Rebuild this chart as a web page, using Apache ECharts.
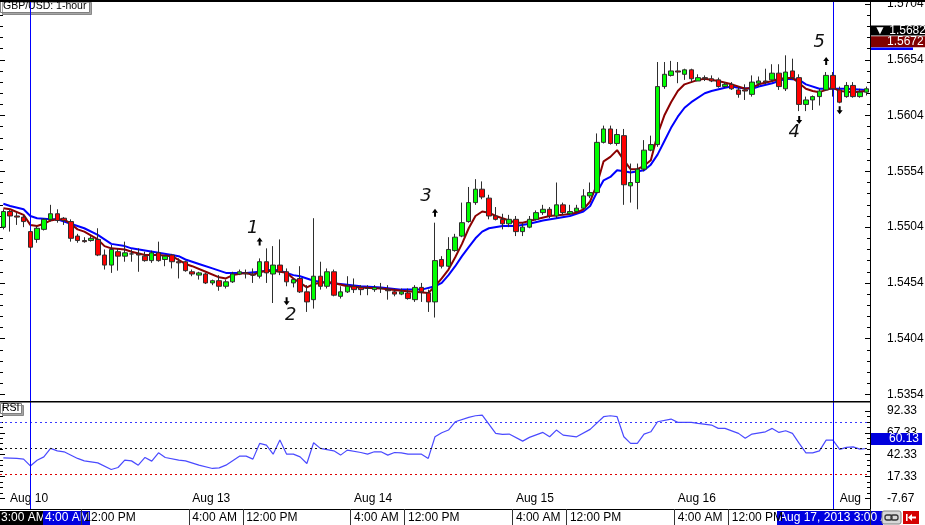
<!DOCTYPE html>
<html><head><meta charset="utf-8">
<script src="https://cdn.jsdelivr.net/npm/echarts@6/dist/echarts.min.js"></script>
<style>html,body{margin:0;padding:0;background:#fff}#c{width:925px;height:525px}</style>
</head><body><div id="c"></div><script>
// ---------- DATA ----------
const opens = [1.5504,1.5518,1.5514,1.5513,1.5500,1.5493,1.5502,1.5511,1.5516,1.5512,
1.5509,1.5496,1.5492,1.5492,1.5493,1.5479,1.5470,1.5482,1.5478,1.5480,
1.5480,1.5478,1.5474,1.5481,1.5475,1.5479,1.5473,1.5473,1.5464,1.5461,
1.5462,1.5454,1.5456,1.5451,1.5455,1.5462,1.5463,1.5462,1.5460,1.5473,
1.5462,1.5470,1.5464,1.5454,1.5458,1.5446,1.5439,1.5460,1.5451,1.5464,
1.5442,1.5446,1.5451,1.5450,1.5449,1.5448,1.5449,1.5448,1.5446,1.5444,
1.5445,1.5439,1.5450,1.5445,1.5437,1.5475,1.5469,1.5483,1.5496,1.5509,
1.5526,1.5538,1.5530,1.5514,1.5511,1.5507,1.5511,1.5500,1.5504,1.5511,
1.5517,1.5520,1.5514,1.5524,1.5516,1.5518,1.5521,1.5532,1.5535,1.5580,
1.5592,1.5579,1.5586,1.5541,1.5544,1.5556,1.5573,1.5578,1.5630,1.5640,
1.5644,1.5641,1.5645,1.5635,1.5638,1.5637,1.5636,1.5630,1.5632,1.5627,
1.5627,1.5623,1.5633,1.5635,1.5636,1.5642,1.5628,1.5644,1.5638,1.5614,
1.5618,1.5621,1.5627,1.5640,1.5627,1.5621,1.5631,1.5621,1.5625];
const closes = [1.5518,1.5514,1.5513,1.5509,1.5486,1.5503,1.5511,1.5516,1.5510,1.5510,
1.5494,1.5492,1.5491,1.5494,1.5479,1.5470,1.5484,1.5478,1.5481,1.5480,
1.5479,1.5474,1.5481,1.5474,1.5478,1.5473,1.5472,1.5465,1.5462,1.5463,
1.5454,1.5456,1.5451,1.5455,1.5462,1.5464,1.5462,1.5461,1.5473,1.5463,
1.5470,1.5464,1.5455,1.5457,1.5446,1.5437,1.5460,1.5451,1.5464,1.5443,
1.5446,1.5451,1.5448,1.5448,1.5449,1.5450,1.5449,1.5447,1.5444,1.5446,
1.5440,1.5450,1.5446,1.5437,1.5474,1.5469,1.5484,1.5495,1.5508,1.5526,
1.5538,1.5531,1.5514,1.5511,1.5507,1.5511,1.5500,1.5504,1.5511,1.5517,
1.5520,1.5514,1.5524,1.5517,1.5518,1.5521,1.5532,1.5535,1.5580,1.5592,
1.5579,1.5587,1.5542,1.5544,1.5556,1.5573,1.5578,1.5630,1.5641,1.5644,
1.5643,1.5645,1.5637,1.5638,1.5637,1.5635,1.5630,1.5632,1.5628,1.5623,
1.5626,1.5634,1.5635,1.5634,1.5642,1.5630,1.5643,1.5638,1.5614,1.5618,
1.5621,1.5626,1.5640,1.5628,1.5616,1.5631,1.5621,1.5625,1.5628];
const lows = [1.5502,1.5500,1.5506,1.5504,1.5484,1.5490,1.5501,1.5509,1.5508,1.5506,
1.5491,1.5490,1.5490,1.5491,1.5478,1.5466,1.5463,1.5465,1.5473,1.5473,
1.5464,1.5473,1.5472,1.5473,1.5469,1.5467,1.5458,1.5464,1.5460,1.5457,
1.5453,1.5452,1.5447,1.5449,1.5454,1.5461,1.5458,1.5454,1.5458,1.5454,
1.5436,1.5461,1.5451,1.5450,1.5445,1.5428,1.5431,1.5448,1.5449,1.5442,
1.5440,1.5445,1.5445,1.5443,1.5443,1.5446,1.5445,1.5439,1.5442,1.5443,
1.5439,1.5437,1.5437,1.5428,1.5423,1.5467,1.5468,1.5482,1.5495,1.5508,
1.5524,1.5529,1.5511,1.5510,1.5502,1.5504,1.5496,1.5496,1.5503,1.5510,
1.5515,1.5512,1.5512,1.5515,1.5515,1.5517,1.5520,1.5530,1.5534,1.5579,
1.5578,1.5577,1.5524,1.5526,1.5520,1.5554,1.5572,1.5576,1.5628,1.5639,
1.5633,1.5636,1.5634,1.5635,1.5635,1.5634,1.5629,1.5629,1.5627,1.5620,
1.5618,1.5621,1.5630,1.5632,1.5634,1.5627,1.5626,1.5636,1.5608,1.5608,
1.5609,1.5613,1.5626,1.5621,1.5615,1.5620,1.5620,1.5620,1.5622];
const highs = [1.5520,1.5520,1.5517,1.5515,1.5501,1.5505,1.5512,1.5524,1.5520,1.5513,
1.5511,1.5498,1.5495,1.5496,1.5503,1.5484,1.5488,1.5485,1.5491,1.5484,
1.5485,1.5482,1.5483,1.5491,1.5479,1.5480,1.5476,1.5474,1.5466,1.5464,
1.5463,1.5457,1.5461,1.5457,1.5464,1.5466,1.5466,1.5467,1.5476,1.5485,
1.5487,1.5493,1.5467,1.5458,1.5469,1.5452,1.5512,1.5473,1.5467,1.5466,
1.5451,1.5460,1.5458,1.5452,1.5452,1.5452,1.5454,1.5452,1.5449,1.5449,
1.5449,1.5452,1.5454,1.5448,1.5508,1.5478,1.5495,1.5498,1.5526,1.5540,
1.5547,1.5545,1.5533,1.5522,1.5516,1.5515,1.5514,1.5508,1.5514,1.5519,
1.5524,1.5522,1.5544,1.5526,1.5524,1.5524,1.5538,1.5544,1.5588,1.5595,
1.5595,1.5592,1.5592,1.5561,1.5561,1.5582,1.5586,1.5652,1.5652,1.5653,
1.5652,1.5646,1.5646,1.5641,1.5640,1.5640,1.5638,1.5634,1.5634,1.5630,
1.5632,1.5640,1.5639,1.5646,1.5650,1.5650,1.5658,1.5655,1.5641,1.5621,
1.5622,1.5628,1.5643,1.5643,1.5630,1.5634,1.5634,1.5628,1.5630];

// moving averages: [candle index, price]
const emaRed = [[0,1.5521],[1,1.5520],[3,1.5515],[4,1.5506],[5,1.5505],[6,1.5507],[7,1.5510],[8,1.5511],[9,1.5511],[10,1.5507],[11,1.5502],[12,1.5500],[14,1.5493],[15,1.5487],[16,1.5485],[18,1.5484],[19,1.5482],[21,1.5479],[23,1.5479],[25,1.5478],[27,1.5471],[28,1.5469],[30,1.5464],[32,1.5459],[33,1.5458],[34,1.5461],[36,1.5463],[37,1.5461],[38,1.5464],[40,1.5465],[42,1.5463],[43,1.5458],[44,1.5454],[45,1.5450],[46,1.5453],[48,1.5455],[49,1.5454],[51,1.5451],[53,1.5450],[56,1.5449],[59,1.5447],[61,1.5446],[63,1.5445],[64,1.5451],[65,1.5458],[66,1.5466],[67,1.5477],[68,1.5489],[69,1.5503],[70,1.5514],[71,1.5518],[72,1.5517],[73,1.5514],[74,1.5512],[75,1.5510],[76,1.5508],[77,1.5508],[79,1.5511],[81,1.5514],[83,1.5515],[85,1.5517],[86,1.5520],[87,1.5527],[88,1.5542],[89,1.5563],[90,1.5567],[91,1.5573],[92,1.5564],[93,1.5556],[94,1.5556],[95,1.5559],[96,1.5564],[97,1.5587],[98,1.5604],[99,1.5616],[100,1.5626],[101,1.5632],[103,1.5636],[104,1.5637],[106,1.5635],[108,1.5632],[110,1.5628],[111,1.5629],[112,1.5632],[114,1.5635],[115,1.5637],[117,1.5638],[118,1.5633],[119,1.5628],[120,1.5626],[121,1.5625],[122,1.5627],[123,1.5629],[124,1.5626],[126,1.5625],[128,1.5626]];
const emaBlue = [[0,1.5525],[1,1.5523],[3,1.5520],[4,1.5514],[5,1.5512],[7,1.5511],[8,1.5511],[10,1.5507],[12,1.5503],[14,1.5497],[15,1.5493],[16,1.5489],[18,1.5487],[19,1.5485],[21,1.5483],[23,1.5481],[25,1.5479],[26,1.5478],[27,1.5475],[29,1.5471],[31,1.5467],[33,1.5463],[34,1.5463],[36,1.5463],[38,1.5464],[40,1.5466],[41,1.5465],[43,1.5461],[44,1.5460],[46,1.5456],[48,1.5454],[50,1.5453],[53,1.5451],[56,1.5450],[59,1.5448],[62,1.5448],[64,1.5451],[65,1.5454],[66,1.5461],[67,1.5469],[68,1.5478],[69,1.5486],[70,1.5494],[71,1.5500],[72,1.5503],[74,1.5505],[76,1.5505],[78,1.5507],[80,1.5510],[82,1.5512],[84,1.5514],[86,1.5518],[87,1.5523],[88,1.5535],[89,1.5546],[90,1.5549],[91,1.5555],[92,1.5554],[93,1.5553],[95,1.5555],[96,1.5560],[97,1.5569],[98,1.5581],[99,1.5593],[100,1.5603],[101,1.5611],[102,1.5616],[104,1.5624],[105,1.5626],[107,1.5629],[108,1.5630],[109,1.5629],[111,1.5628],[112,1.5630],[114,1.5633],[116,1.5637],[118,1.5636],[119,1.5632],[121,1.5628],[123,1.5628],[125,1.5628],[128,1.5627]];
const rsiPts = [[0,38.6],[2,38.0],[3,37.2],[4,29.4],[5,36.0],[6,39.8],[7,49.5],[8,46.7],[9,45.6],[11,38.0],[12,35.2],[14,32.9],[16,25.3],[17,27.6],[18,36.0],[19,35.2],[20,30.3],[21,39.1],[22,34.9],[23,44.4],[24,39.1],[26,36.0],[27,35.2],[29,30.3],[31,26.5],[32,27.2],[33,30.3],[35,40.6],[36,40.6],[37,37.2],[38,55.2],[39,53.2],[40,42.9],[41,59.0],[42,42.9],[43,42.9],[44,39.8],[45,32.2],[46,55.9],[47,49.5],[49,46.7],[50,41.8],[51,47.5],[53,44.8],[54,42.9],[55,45.6],[56,45.6],[57,41.8],[58,44.8],[59,44.4],[60,42.9],[62,42.9],[63,38.0],[64,62.8],[65,67.4],[66,70.5],[67,80.0],[69,85.1],[70,86.9],[71,87.7],[73,66.7],[74,65.5],[75,65.9],[77,57.8],[78,62.1],[80,67.8],[81,62.8],[82,70.5],[83,64.7],[85,62.8],[87,71.3],[89,85.8],[90,86.9],[91,85.8],[92,62.8],[93,55.2],[94,55.2],[95,65.9],[96,68.5],[97,80.0],[99,83.1],[100,79.3],[102,79.3],[103,78.2],[105,76.2],[106,72.4],[107,72.4],[109,66.7],[110,61.0],[111,65.9],[113,68.5],[114,72.4],[115,67.8],[116,69.7],[117,66.7],[118,55.2],[119,44.4],[120,44.4],[121,46.7],[122,59.0],[123,59.0],[124,48.3],[125,50.6],[126,51.3],[127,48.6],[128,49.4]];

const timeTickIdx = [12,28,36,52,60,76,84,100,108];
const timeTickText = ['12:00 PM','4:00 AM','12:00 PM','4:00 AM','12:00 PM','4:00 AM','12:00 PM','4:00 AM','12:00 PM'];
const dateTickIdx = [1,28,52,76,100,124];
const dateTickText = ['Aug 10','Aug 13','Aug 14','Aug 15','Aug 16','Aug'];
const priceAxis = {min:1.5354, max:1.5704, step:0.005};
const rsiAxis = {min:-7.67, max:92.33, step:25};
const rsiLevels = [80, 50, 20];
const crossIdx = [4, 123];
const crossPrice = 1.5682, emaPrice = 1.5672, rsiNow = 60.13;
const fractalUpIdx = [38, 64, 122];
const fractalDownIdx = [42, 118, 124];
const waveIdx = [38, 42, 64, 118, 122];
const waveText = ['1','2','3','4','5'];
const waveSide = ['up','down','up','down','up'];

// ---------- STYLE / LAYOUT ----------
const FONT = '"Liberation Sans", Arial, sans-serif';
const upOff = [-17, -10, -11], downOff = [15, 9, 7];
const waveOff = [[-7,-30],[4,29],[-9,-26],[-5,21],[-7,-30]];
const UP = 'path://M3,0L6,4L4,4L4,8L2,8L2,4L0,4Z';
const DOWN = 'path://M3,8L6,4L4,4L4,0L2,0L2,4L0,4Z';

const cats = opens.map((_, i) => String(i));
const candles = opens.map((o, i) => [o, closes[i], lows[i], highs[i]]);

const marks = [];
fractalUpIdx.forEach((i, k) => marks.push({coord:[i, highs[i]], symbol:UP, symbolSize:[6,8], symbolOffset:[0, upOff[k]], itemStyle:{color:'#000'}}));
fractalDownIdx.forEach((i, k) => marks.push({coord:[i, lows[i]], symbol:DOWN, symbolSize:[6,8], symbolOffset:[0, downOff[k]], itemStyle:{color:'#000'}}));
waveIdx.forEach((i, k) => marks.push({coord:[i, waveSide[k]==='up' ? highs[i] : lows[i]], symbol:'rect', symbolSize:1,
  itemStyle:{color:'rgba(0,0,0,0)'},
  label:{show:true, formatter:waveText[k], offset:waveOff[k], fontSize:18, fontWeight:200, fontStyle:'italic', fontFamily:'"DejaVu Sans", sans-serif', color:'#111'}}));

const sideTicks = (pos, showLabel, ax, fmt, minorSplit) => ({
  type:'value', position:pos, min:ax.min, max:ax.max, interval:ax.step,
  axisLine:{show:false},
  axisTick:{show:true, inside:true, length:5, lineStyle:{color:'#000'}},
  minorTick:{show:true, splitNumber:minorSplit, length:3, lineStyle:{color:'#000'}},
  splitLine:{show:false}, minorSplitLine:{show:false},
  axisLabel:{show:showLabel, margin:17, showMinLabel:true, showMaxLabel:true, formatter:fmt, color:'#000', fontSize:12, fontFamily:FONT}
});

const hidden = (g) => ({type:'category', data:cats, gridIndex:g, show:false, boundaryGap:true});
const gridBase = {left:0, right:55, containLabel:false, outerBoundsMode:'none'};
const boxLabel = (text, bg, pad, lh, dy) => ({show:true, position:'end', distance:1, offset:[0, dy], formatter:text, color:'#fff', backgroundColor:bg, padding:pad, fontSize:12, lineHeight:lh, fontFamily:FONT});

const option = {
  animation:false,
  backgroundColor:'#fff',
  title:[
    {text:'GBP/USD: 1-hour', left:0, top:0, padding:[1,3,1,3], z:1,
     textStyle:{fontSize:10.5, fontWeight:'normal', color:'#000', fontFamily:FONT},
     backgroundColor:'#fff', borderColor:'#808080', borderWidth:1, shadowColor:'rgba(0,0,0,0.35)', shadowOffsetX:2, shadowOffsetY:2, shadowBlur:0},
    {text:'RSI', left:0, top:403, padding:[0,2,0,2], z:1,
     textStyle:{fontSize:10.5, fontWeight:'normal', color:'#000', fontFamily:FONT},
     backgroundColor:'#fff', borderColor:'#808080', borderWidth:1, shadowColor:'rgba(0,0,0,0.35)', shadowOffsetX:2, shadowOffsetY:2, shadowBlur:0}
  ],
  grid:[
    Object.assign({top:4, bottom:130.5}, gridBase),
    Object.assign({top:411, bottom:26.7}, gridBase),
    Object.assign({top:0, bottom:16}, gridBase)
  ],
  xAxis:[
    hidden(0), hidden(1),
    {type:'category', data:cats, gridIndex:2, position:'bottom', boundaryGap:true,
     axisLine:{show:true, lineStyle:{color:'#000', width:1}},
     axisTick:{show:true, length:16, interval:(i)=>timeTickIdx.includes(i), lineStyle:{color:'#333'}},
     axisLabel:{show:true, interval:(i)=>timeTickIdx.includes(i), formatter:(v)=>timeTickText[timeTickIdx.indexOf(Number(v))] || '',
       align:'left', margin:3, fontSize:12, color:'#000', fontFamily:FONT},
     splitLine:{show:false}},
    {type:'category', data:cats, gridIndex:2, position:'bottom', boundaryGap:true,
     axisLine:{show:false}, axisTick:{show:false}, splitLine:{show:false},
     axisLabel:{show:true, inside:true, interval:(i)=>dateTickIdx.includes(i), formatter:(v)=>dateTickText[dateTickIdx.indexOf(Number(v))] || '',
       align:'left', margin:4, fontSize:12, color:'#000', fontFamily:FONT}}
  ],
  yAxis:[
    Object.assign(sideTicks('right', true, priceAxis, v=>v.toFixed(4), 5), {gridIndex:0}),
    Object.assign(sideTicks('left', false, priceAxis, v=>'', 5), {gridIndex:0}),
    Object.assign(sideTicks('right', true, rsiAxis, v=>v.toFixed(2), 4), {gridIndex:1}),
    Object.assign(sideTicks('left', false, rsiAxis, v=>'', 4), {gridIndex:1}),
    {type:'value', gridIndex:2, position:'right', min:0, max:1,
     axisLine:{show:true, lineStyle:{color:'#000', width:1}}, axisTick:{show:false}, axisLabel:{show:false}, splitLine:{show:false}}
  ],
  series:[
    {type:'line', name:'MA slow', xAxisIndex:0, yAxisIndex:0, data:emaBlue, symbol:'none', smooth:false,
     lineStyle:{color:'#0000ff', width:2}, z:2},
    {type:'line', name:'MA fast', xAxisIndex:0, yAxisIndex:0, data:emaRed, symbol:'none', smooth:false,
     lineStyle:{color:'#8b0000', width:2}, z:3,
     markLine:{silent:true, precision:4, symbol:['none','none'], lineStyle:{width:0, color:'rgba(0,0,0,0)'},
       data:[
         {yAxis:emaPrice, label:boxLabel(emaPrice.toFixed(4), '#800000', [0,3,0,16], 11, 2)},
         {yAxis:crossPrice, label:boxLabel('▼ ' + crossPrice.toFixed(4), '#000', [0,2,0,3], 10, 2)}
       ]}},
    {type:'candlestick', name:'GBP/USD', xAxisIndex:0, yAxisIndex:0, data:candles, barWidth:5, z:5,
     itemStyle:{color:'#00ff00', color0:'#ff0000', borderColor:'#2e2e2e', borderColor0:'#2e2e2e', borderWidth:1},
     markPoint:{data:marks, silent:true, label:{show:false}}},
    {type:'line', name:'RSI', xAxisIndex:1, yAxisIndex:2, data:rsiPts, symbol:'none',
     lineStyle:{color:'#4a4aff', width:1.2},
     markLine:{silent:true, precision:2, symbol:['none','none'],
       data:[
         {yAxis:rsiLevels[0], lineStyle:{color:'#3a3aff', type:[2,3], width:1}, label:{show:false}},
         {yAxis:rsiLevels[1], lineStyle:{color:'#111', type:[2,3], width:1}, label:{show:false}},
         {yAxis:rsiLevels[2], lineStyle:{color:'#e00000', type:[2,3], width:1}, label:{show:false}},
         {yAxis:rsiNow, lineStyle:{width:0, color:'rgba(0,0,0,0)'}, label:boxLabel(rsiNow.toFixed(2), '#0000dd', [0,3,0,18], 12, 0)}
       ]}},
    {type:'line', name:'cross', xAxisIndex:2, yAxisIndex:4, data:[], symbol:'none', z:6,
     markLine:{silent:true, symbol:['none','none'], label:{show:false},
       lineStyle:{color:'#0000ff', width:1, type:'solid'},
       data:crossIdx.map(i => ({xAxis:i}))}}
  ],
  graphic:[
    {type:'rect', z:50, shape:{x:0, y:0, width:925, height:2}, style:{fill:'#000'}},
    {type:'rect', z:50, shape:{x:0, y:401, width:870, height:1.5}, style:{fill:'#000'}},
    {type:'rect', z:50, shape:{x:871, y:47.5, width:42, height:2.5}, style:{fill:'#0000ff'}},
    {type:'group', z:100, children:[
      {type:'rect', shape:{x:0, y:511, width:43, height:14}, style:{fill:'#000'}},
      {type:'text', x:1, y:518, style:{text:'3:00 AM', fill:'#fff', font:'12px ' + FONT, verticalAlign:'middle'}},
      {type:'rect', shape:{x:43, y:511, width:47, height:14}, style:{fill:'#0000e0'}},
      {type:'text', x:45, y:518, style:{text:'4:00 AM', fill:'#fff', font:'12px ' + FONT, verticalAlign:'middle'}},
      {type:'rect', shape:{x:777, y:511, width:106, height:14}, style:{fill:'#0000e0'}},
      {type:'text', x:779, y:518, style:{text:'Aug 17, 2013 3:00 AM', fill:'#fff', font:'12px ' + FONT, verticalAlign:'middle'}},
      {type:'rect', shape:{x:882, y:511, width:19, height:13, r:2}, style:{fill:'#d8d8d8', stroke:'#808080', lineWidth:1}},
      {type:'rect', shape:{x:885, y:515, width:7, height:5, r:2}, style:{fill:'none', stroke:'#333', lineWidth:1.3}},
      {type:'rect', shape:{x:891, y:515, width:7, height:5, r:2}, style:{fill:'none', stroke:'#333', lineWidth:1.3}},
      {type:'rect', shape:{x:903, y:511, width:16, height:13}, style:{fill:'#d40000'}},
      {type:'rect', shape:{x:906, y:514, width:1.6, height:7}, style:{fill:'#fff'}},
      {type:'polygon', shape:{points:[[908,517.5],[912,514],[912,516.5],[916,516.5],[916,518.5],[912,518.5],[912,521]]}, style:{fill:'#fff'}}
    ]}
  ]
};
const chart = echarts.init(document.getElementById('c'), null, {renderer:'canvas'});
chart.setOption(option);
</script></body></html>
